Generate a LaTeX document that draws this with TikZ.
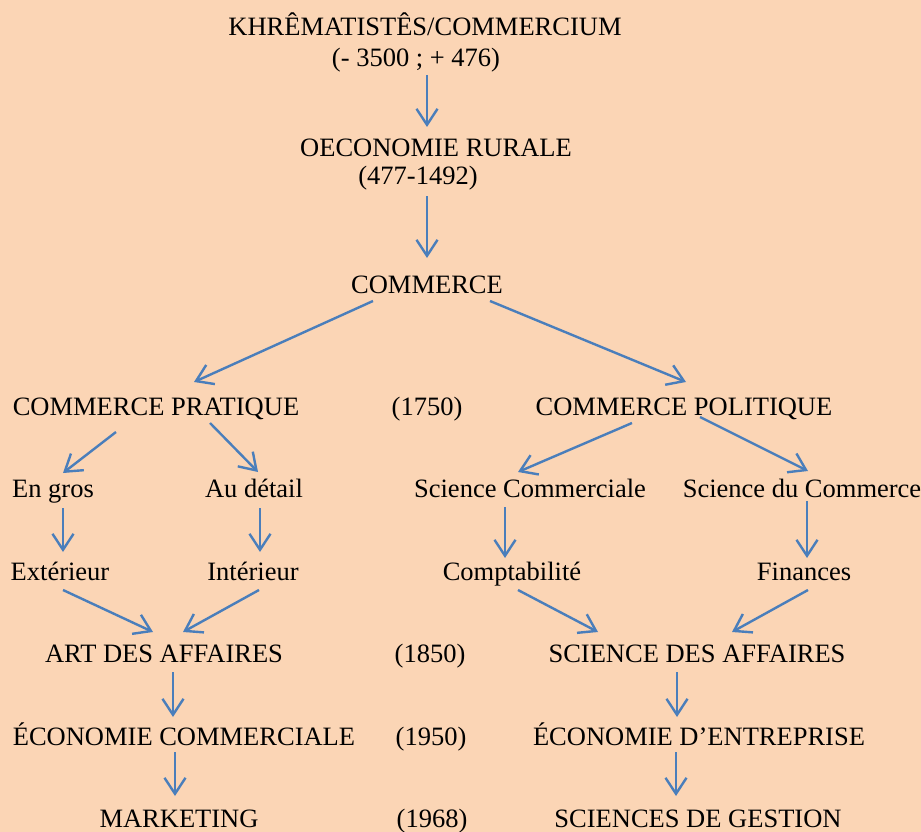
\documentclass[tikz,border=0pt]{standalone}
\usepackage{fontspec}
\setmainfont{Liberation Serif}
\usetikzlibrary{arrows.meta}
\definecolor{bg}{HTML}{FBD5B5}
\definecolor{arrblue}{HTML}{4A7EBB}
\tikzset{
  lbl/.style={anchor=base, inner sep=0pt, font=\fontsize{26.5}{30}\selectfont, text=black},
  arr/.style={draw=arrblue, line width=2.4pt, -{Straight Barb[length=16pt,width=21pt]}}
}
\begin{document}
\begin{tikzpicture}[x=1pt,y=-1pt]
\useasboundingbox[fill=bg] (0,0) rectangle (921,832);
% texts
\node[lbl] (k) at (425,36) {KHRÊMATISTÊS/COMMERCIUM};
\node[lbl] (d1) at (416,67) {(- 3500 ; + 476)};
\node[lbl] (oe) at (436,157) {OECONOMIE RURALE};
\node[lbl] (d2) at (418,185) {(477-1492)};
\node[lbl] (cm) at (427,293) {COMMERCE};
\node[lbl] (cp) at (156,415) {COMMERCE PRATIQUE};
\node[lbl] (y1750) at (427,415) {(1750)};
\node[lbl] (cpol) at (684,415) {COMMERCE POLITIQUE};
\node[lbl] (gros) at (53,497) {En gros};
\node[lbl] (detail) at (254,497) {Au détail};
\node[lbl] (scom) at (530,497) {Science Commerciale};
\node[lbl] (sdc) at (802,497) {Science du Commerce};
\node[lbl] (ext) at (60,580) {Extérieur};
\node[lbl] (int) at (253,580) {Intérieur};
\node[lbl] (compta) at (512,580) {Comptabilité};
\node[lbl] (fin) at (804,580) {Finances};
\node[lbl] (ada) at (164,662) {ART DES AFFAIRES};
\node[lbl] (y1850) at (430,662) {(1850)};
\node[lbl] (sda) at (697,662) {SCIENCE DES AFFAIRES};
\node[lbl] (ecom) at (184,745) {ÉCONOMIE COMMERCIALE};
\node[lbl] (y1950) at (431,745) {(1950)};
\node[lbl] (ede) at (699,745) {ÉCONOMIE D’ENTREPRISE};
\node[lbl] (mk) at (179,827) {MARKETING};
\node[lbl] (y1968) at (432,827) {(1968)};
\node[lbl] (sg) at (698,827) {SCIENCES DE GESTION};
% connector end points
\coordinate (d1o) at (427,75);   \coordinate (oei) at (427,127);
\coordinate (d2o) at (427,196);  \coordinate (cmi) at (427,258);
\coordinate (cmL) at (373,301);  \coordinate (cpi) at (194,382);
\coordinate (cmR) at (490,301);  \coordinate (cpoli) at (686,382);
\coordinate (cpL) at (116,432);  \coordinate (grosi) at (63,473);
\coordinate (cpR) at (210,423);  \coordinate (detaili) at (258,472);
\coordinate (cpolL) at (632,423); \coordinate (scomi) at (518,472);
\coordinate (cpolR) at (700,417); \coordinate (sdci) at (808,471);
\coordinate (groso) at (63,508);  \coordinate (exti) at (63,552);
\coordinate (detailo) at (260,508); \coordinate (inti) at (260,552);
\coordinate (scomo) at (505,507); \coordinate (comptai) at (505,558);
\coordinate (sdco) at (807,501);  \coordinate (fini) at (807,558);
\coordinate (exto) at (63,590);   \coordinate (adaL) at (153,632);
\coordinate (into) at (259,590);  \coordinate (adaR) at (183,632);
\coordinate (comptao) at (518,590); \coordinate (sdaL) at (598,632);
\coordinate (fino) at (808,590);  \coordinate (sdaR) at (732,632);
\coordinate (adao) at (173,672);  \coordinate (ecomi) at (173,717);
\coordinate (sdao) at (677,672);  \coordinate (edei) at (677,717);
\coordinate (ecomo) at (175,752); \coordinate (mki) at (175,796);
\coordinate (edeo) at (676,752);  \coordinate (sgi) at (676,796);
% connectors
\draw[arr] (d1o) -- (oei);
\draw[arr] (d2o) -- (cmi);
\draw[arr] (cmL) -- (cpi);
\draw[arr] (cmR) -- (cpoli);
\draw[arr] (cpL) -- (grosi);
\draw[arr] (cpR) -- (detaili);
\draw[arr] (cpolL) -- (scomi);
\draw[arr] (cpolR) -- (sdci);
\draw[arr] (groso) -- (exti);
\draw[arr] (detailo) -- (inti);
\draw[arr] (scomo) -- (comptai);
\draw[arr] (sdco) -- (fini);
\draw[arr] (exto) -- (adaL);
\draw[arr] (into) -- (adaR);
\draw[arr] (comptao) -- (sdaL);
\draw[arr] (fino) -- (sdaR);
\draw[arr] (adao) -- (ecomi);
\draw[arr] (sdao) -- (edei);
\draw[arr] (ecomo) -- (mki);
\draw[arr] (edeo) -- (sgi);
\end{tikzpicture}
\end{document}
